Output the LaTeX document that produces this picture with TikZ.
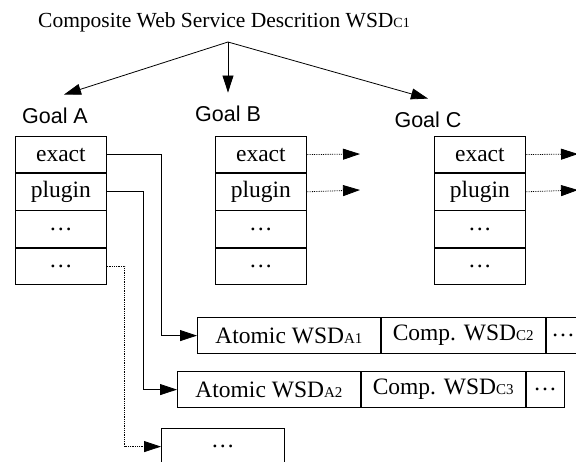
\documentclass[tikz,border=0pt]{standalone}
\usepackage{fontspec}
\setmainfont{Liberation Serif}
\newfontfamily\goalfont{Liberation Sans}
\usetikzlibrary{positioning,arrows.meta}
\newcommand{\subsc}[1]{{\fontsize{15}{17}\selectfont #1}}
\tikzset{
  cell/.style={draw, line width=0.8pt, minimum width=91pt, minimum height=36.4pt,
    inner sep=0pt, font=\fontsize{23.5}{27}\selectfont},
  goal/.style={font=\goalfont\fontsize{21.5}{25}\selectfont},
  link/.style={line width=0.8pt, -{Triangle[length=17pt,width=11pt]}},
  hint/.style={link, densely dotted},
}
\begin{document}
\begin{tikzpicture}[x=1pt,y=-1pt]
    \useasboundingbox (0,0) rectangle (576,461);
    \clip (0,0) rectangle (576,461);

    \node[font=\fontsize{21.5}{25}\selectfont] (title) at (224,22) {Composite Web Service Descrition WSD{\fontsize{14}{16}\selectfont C1}};
    \coordinate (fork) at (228,42);

    \node[goal] (goalA) at (55,116) {Goal A};
    \node[goal] (goalB) at (228,114) {Goal B};
    \node[goal] (goalC) at (428,120) {Goal C};
        \draw[link] (fork) -- ([xshift=9pt,yshift=10pt]goalA.north);
        \draw[link] (fork) -- ([yshift=10pt]goalB.north);
        \draw[link] (fork) -- ([yshift=10pt]goalC.north);

    % goal A
    \node[cell, anchor=north west] (a1) at (15,136) {exact};
    \node[cell, below=0pt of a1] (a2) {plugin};
    \node[cell, below=0pt of a2] (a3) {\dots};
    \node[cell, below=0pt of a3] (a4) {\dots};

    % goal B
    \node[cell, anchor=north west] (b1) at (215,136) {exact};
    \node[cell, below=0pt of b1] (b2) {plugin};
    \node[cell, below=0pt of b2] (b3) {\dots};
    \node[cell, below=0pt of b3] (b4) {\dots};

    % goal C
    \node[cell, anchor=north west] (c1) at (434,136) {exact};
    \node[cell, below=0pt of c1] (c2) {plugin};
    \node[cell, below=0pt of c2] (c3) {\dots};
    \node[cell, below=0pt of c3] (c4) {\dots};

    \coordinate (bout1) at (360,154);
    \coordinate (bout2) at (360,190);
    \coordinate (cout1) at (578,154);
    \coordinate (cout2) at (578,190);
        \draw[hint] (b1.east) -- (bout1);
        \draw[hint] (b2.east) -- (bout2);
        \draw[hint] (c1.east) -- (cout1);
        \draw[hint] (c2.east) -- (cout2);

    % result lists
    \node[cell, minimum width=183pt, anchor=north west] (r1a) at (197,317) {Atomic WSD\subsc{A1}};
    \node[cell, minimum width=164pt, right=0pt of r1a] (r1b) {Comp. WSD\subsc{C2}};
    \node[cell, minimum width=34pt, right=0pt of r1b] (r1c) {\dots};

    \node[cell, minimum width=183pt, anchor=north west] (r2a) at (177,371) {Atomic WSD\subsc{A2}};
    \node[cell, minimum width=164pt, right=0pt of r2a] (r2b) {Comp. WSD\subsc{C3}};
    \node[cell, minimum width=38pt, right=0pt of r2b] (r2c) {\dots};

    \node[cell, minimum width=123pt, anchor=north west] (r3) at (161,428) {\dots};

        \draw[link] (a1.east) -- +(55,0) |- (r1a.west);
        \draw[link] (a2.east) -- +(37,0) |- (r2a.west);
        \draw[hint] (a4.east) -- +(18,0) |- (r3.west);
\end{tikzpicture}
\end{document}
